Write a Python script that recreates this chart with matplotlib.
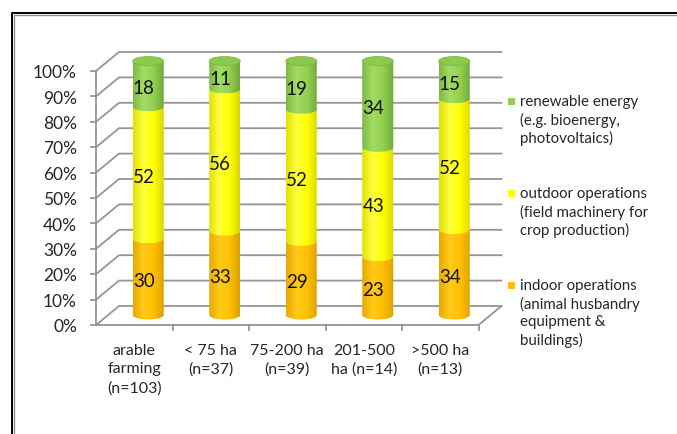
import numpy as np
import matplotlib
matplotlib.use("Agg")
import matplotlib.pyplot as plt
from matplotlib.colors import LinearSegmentedColormap
from matplotlib.patches import Ellipse, PathPatch, Rectangle
from matplotlib.path import Path
from matplotlib.lines import Line2D

# data
categories = [
    "arable\nfarming\n(n=103)",
    "< 75 ha\n(n=37)",
    "75-200 ha\n(n=39)",
    "201-500\nha (n=14)",
    ">500 ha\n(n=13)",
]
indoor = [30, 33, 29, 23, 34]
outdoor = [52, 56, 52, 43, 52]
renewable = [18, 11, 19, 34, 15]
legend_labels = [
    "renewable energy\n(e.g. bioenergy,\nphotovoltaics)",
    "outdoor operations\n(field machinery for\ncrop production)",
    "indoor operations\n(animal husbandry\nequipment &\nbuildings)",
]
y_ticks = list(range(0, 101, 10))

# layout (pixels of the 677x435 picture)
W, H = 677, 435
X0_PX, X_UNIT = 96, 76.5
Y0_PX, Y_UNIT = 326, 2.54
BACK_DX, BACK_DY = 23 / X_UNIT, 19 / Y_UNIT
CYL_DX, CYL_DY = 14 / X_UNIT, 10 / Y_UNIT
CYL_W = 31 / X_UNIT
ELL_H = 9 / Y_UNIT

GRID = "#959595"
TEXT = "#262626"

cmaps = {
    "indoor": LinearSegmentedColormap.from_list(
        "o", ["#e9a800", "#ffca1a", "#ffc000", "#dca000"]),
    "outdoor": LinearSegmentedColormap.from_list(
        "y", ["#e0e000", "#ffff40", "#ffff00", "#d6d600"]),
    "renewable": LinearSegmentedColormap.from_list(
        "g", ["#7cb843", "#a3dc62", "#92d050", "#70a838"]),
}
cap_color = "#8cc94f"
legend_colors = ["#92d050", "#ffff00", "#ffc000"]

plt.rcParams["font.family"] = ["Lato", "DejaVu Sans"]


def draw_segment(ax, cx, y0, y1, cmap):
    half = CYL_W / 2
    t = np.linspace(np.pi, 2 * np.pi, 60)
    verts = list(zip(cx + half * np.cos(t), y0 + ELL_H / 2 * np.sin(t)))
    verts += [(cx + half, y1), (cx - half, y1), verts[0]]
    codes = [Path.MOVETO] + [Path.LINETO] * (len(verts) - 2) + [Path.CLOSEPOLY]
    patch = PathPatch(Path(verts, codes), facecolor="none", edgecolor="none")
    ax.add_patch(patch)
    grad = np.linspace(0, 1, 256).reshape(1, -1)
    im = ax.imshow(grad, cmap=cmap, extent=[cx - half, cx + half, y0 - ELL_H / 2, y1],
                   aspect="auto", origin="lower", interpolation="bilinear", zorder=3)
    im.set_clip_path(patch)


def main():
    fig = plt.figure(figsize=(W / 100, H / 100), dpi=100)
    ax = fig.add_axes([0, 0, 1, 1])
    ax.axis("off")
    n = len(categories)

    # walls and gridlines
    for v in y_ticks:
        ax.plot([0, BACK_DX, n + BACK_DX], [v, v + BACK_DY, v + BACK_DY],
                color=GRID, lw=1.3, zorder=1)
        ax.plot([-5 / X_UNIT, 0], [v, v], color=GRID, lw=1.3, zorder=1)
        ax.text(-19 / X_UNIT, v - 0.5, f"{v}%", ha="right", va="center",
                fontsize=12.5, color=TEXT)
    ax.plot([0, 0], [0, 100], color=GRID, lw=1.3, zorder=1)
    ax.plot([0, n, n + BACK_DX], [0, 0, BACK_DY], color=GRID, lw=1.3, zorder=1)
    for i in range(1, n + 1):
        ax.plot([i, i], [0, -5 / Y_UNIT], color=GRID, lw=1.3, zorder=1)

    # cylinders
    for i in range(n):
        vals = [("indoor", indoor[i]), ("outdoor", outdoor[i]), ("renewable", renewable[i])]
        total = sum(v for _, v in vals)
        cx = i + 0.5 + CYL_DX
        base = CYL_DY
        for name, v in vals:
            h = v / total * 100
            draw_segment(ax, cx, base, base + h, cmaps[name])
            ax.text(cx - 0.06, base + h / 2 - 1.5, str(v), ha="center", va="center",
                    fontsize=13.5, color="#111111", zorder=6)
            base += h
        ax.add_patch(Ellipse((cx, base), CYL_W, ELL_H, facecolor=cap_color,
                             edgecolor="#7ab23f", lw=0.5, zorder=5))

    # category labels
    for i, lab in enumerate(categories):
        ax.text(i + 0.5, -(344 - Y0_PX) / Y_UNIT, lab, ha="center", va="top",
                fontsize=11.5, color=TEXT, linespacing=1.4)

    ax.set_xlim(-X0_PX / X_UNIT, (W - X0_PX) / X_UNIT)
    ax.set_ylim(-(H - Y0_PX) / Y_UNIT, Y0_PX / Y_UNIT)

    # legend
    for k, (lab, col) in enumerate(zip(legend_labels, legend_colors)):
        top = 95 + 92 * k
        fig.add_artist(Rectangle((508 / W, 1 - (top + 11) / H), 7 / W, 7 / H,
                                 transform=fig.transFigure, facecolor=col,
                                 edgecolor="none"))
        fig.text(520 / W, 1 - top / H, lab, ha="left", va="top", fontsize=10.8,
                 color=TEXT, linespacing=1.3)

    # outer frame
    fig.add_artist(Line2D([11.5 / W, 11.5 / W, 1], [0, 1 - 13.5 / H, 1 - 13.5 / H],
                          transform=fig.transFigure, color="black", lw=1.4))
    fig.add_artist(Line2D([14 / W, 14 / W, 1], [0, 1 - 15.5 / H, 1 - 15.5 / H],
                          transform=fig.transFigure, color="#909090", lw=1.0))

    fig.savefig("out.png", dpi=100, facecolor="white")
    plt.close(fig)


if __name__ == "__main__":
    main()
